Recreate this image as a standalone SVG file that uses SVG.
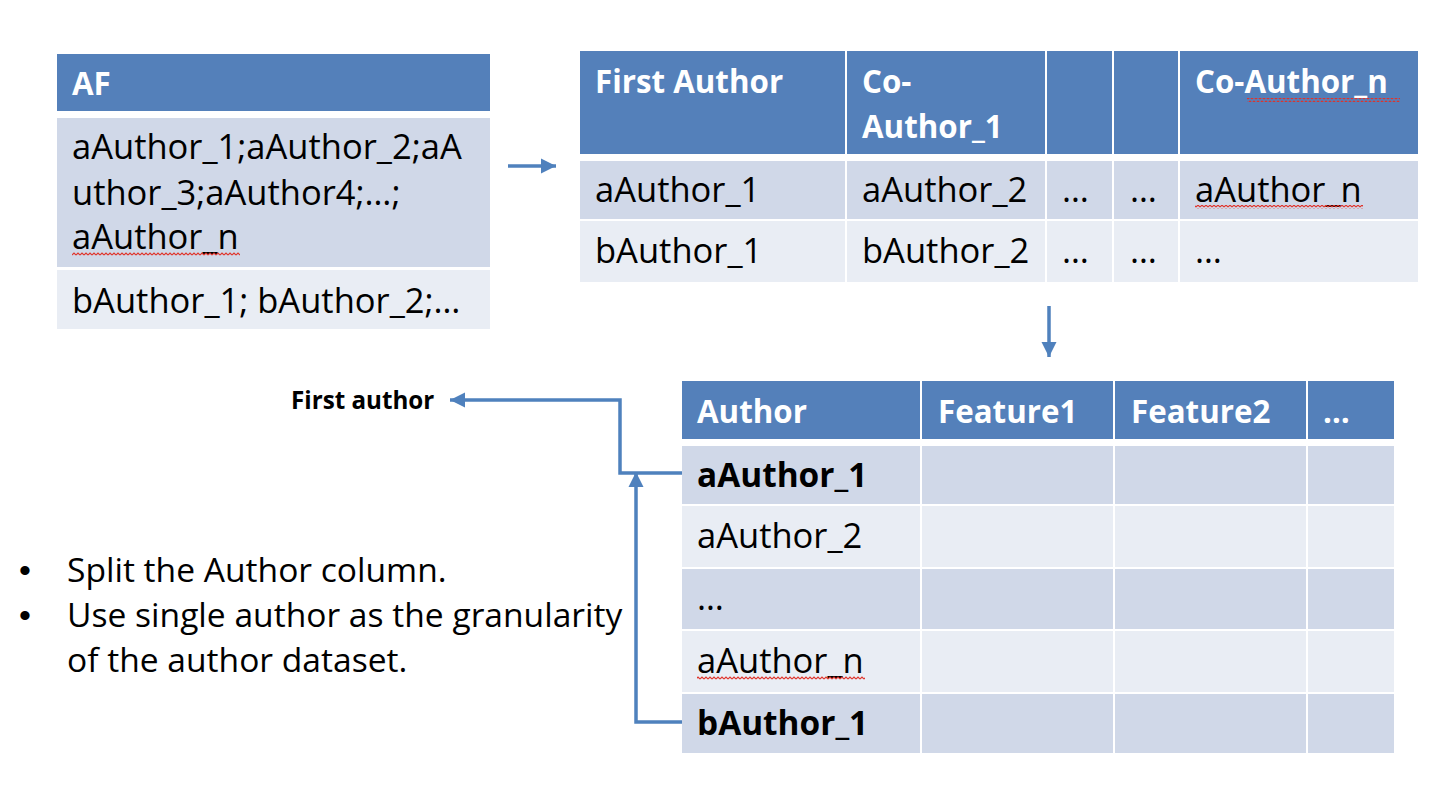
<svg xmlns="http://www.w3.org/2000/svg" width="1442" height="798" viewBox="0 0 1442 798">
<style>
.hd{fill:#5480BA}
.r1{fill:#D0D8E8}
.r2{fill:#E9EDF4}
.t{font-family:"Open Sans","Liberation Sans",sans-serif;font-size:34.5px;fill:#000}
.tn{font-family:"Open Sans","Liberation Sans",sans-serif;font-size:33.6px;fill:#000}
.th{font-family:"Open Sans","Liberation Sans",sans-serif;font-weight:bold;font-size:31.3px;fill:#fff}
.tb{font-family:"Open Sans","Liberation Sans",sans-serif;font-weight:bold;font-size:33.4px;fill:#000}
.lbl{font-family:"Open Sans","Liberation Sans",sans-serif;font-weight:bold;font-size:24.2px;fill:#000}
.bul{font-family:"Liberation Sans",sans-serif;font-size:34px;fill:#000}
.conn{fill:none;stroke:#4F81BD;stroke-width:3.5}
.sq{fill:url(#squig)}
</style>
<defs>
<marker id="ah" viewBox="0 0 10 10" refX="10" refY="5" markerWidth="4.3" markerHeight="4.3" orient="auto">
<path d="M0,0 L10,5 L0,10 z" fill="#4F81BD"/>
</marker>
<pattern id="squig" x="0" y="0" width="4" height="4" patternUnits="userSpaceOnUse">
<polyline points="0,3 2,1 4,3" fill="none" stroke="#E0322A" stroke-width="1.1"/>
</pattern>
</defs>
<rect width="1442" height="798" fill="#fff"/>

<g id="table-af">
<rect class="hd" x="57" y="54" width="433" height="57"/>
<rect class="r1" x="57" y="118" width="433" height="149"/>
<rect class="r2" x="57" y="270" width="433" height="59"/>
<text class="th" x="72" y="95">AF</text>
<text class="t" x="72" y="159">aAuthor_1;aAuthor_2;aA</text>
<text class="t" x="72" y="205">uthor_3;aAuthor4;…;</text>
<text class="t" x="72" y="249">aAuthor_n</text>
<rect class="sq" x="72" y="252" width="168" height="4"/>
<text class="t" x="72" y="313">bAuthor_1; bAuthor_2;…</text>
</g>

<g id="table-split">
<rect class="hd" x="580" y="51" width="265" height="103"/>
<rect class="hd" x="847" y="51" width="198" height="103"/>
<rect class="hd" x="1047" y="51" width="65" height="103"/>
<rect class="hd" x="1114" y="51" width="64" height="103"/>
<rect class="hd" x="1180" y="51" width="238" height="103"/>
<rect class="r1" x="580" y="161" width="265" height="58"/>
<rect class="r1" x="847" y="161" width="198" height="58"/>
<rect class="r1" x="1047" y="161" width="65" height="58"/>
<rect class="r1" x="1114" y="161" width="64" height="58"/>
<rect class="r1" x="1180" y="161" width="238" height="58"/>
<rect class="r2" x="580" y="221" width="265" height="61"/>
<rect class="r2" x="847" y="221" width="198" height="61"/>
<rect class="r2" x="1047" y="221" width="65" height="61"/>
<rect class="r2" x="1114" y="221" width="64" height="61"/>
<rect class="r2" x="1180" y="221" width="238" height="61"/>
<text class="th" x="595" y="93">First Author</text>
<text class="th" x="862" y="93">Co-</text>
<text class="th" x="862" y="138">Author_1</text>
<text class="th" x="1195" y="93">Co-Author_n</text>
<rect class="sq" x="1247" y="98" width="153" height="4"/>
<text class="t" x="595" y="202">aAuthor_1</text>
<text class="t" x="862" y="202">aAuthor_2</text>
<text class="t" x="1062" y="202">…</text>
<text class="t" x="1130" y="202">…</text>
<text class="t" x="1195" y="202">aAuthor_n</text>
<rect class="sq" x="1195" y="205" width="168" height="4"/>
<text class="t" x="595" y="263">bAuthor_1</text>
<text class="t" x="862" y="263">bAuthor_2</text>
<text class="t" x="1062" y="263">…</text>
<text class="t" x="1130" y="263">…</text>
<text class="t" x="1195" y="263">…</text>
</g>

<g id="table-author">
<rect class="hd" x="682" y="381" width="238" height="58"/>
<rect class="hd" x="922" y="381" width="191" height="58"/>
<rect class="hd" x="1115" y="381" width="191" height="58"/>
<rect class="hd" x="1308" y="381" width="86" height="58"/>
<rect class="r1" x="682" y="446" width="238" height="58"/>
<rect class="r1" x="922" y="446" width="191" height="58"/>
<rect class="r1" x="1115" y="446" width="191" height="58"/>
<rect class="r1" x="1308" y="446" width="86" height="58"/>
<rect class="r2" x="682" y="506" width="238" height="61"/>
<rect class="r2" x="922" y="506" width="191" height="61"/>
<rect class="r2" x="1115" y="506" width="191" height="61"/>
<rect class="r2" x="1308" y="506" width="86" height="61"/>
<rect class="r1" x="682" y="569" width="238" height="60"/>
<rect class="r1" x="922" y="569" width="191" height="60"/>
<rect class="r1" x="1115" y="569" width="191" height="60"/>
<rect class="r1" x="1308" y="569" width="86" height="60"/>
<rect class="r2" x="682" y="631" width="238" height="61"/>
<rect class="r2" x="922" y="631" width="191" height="61"/>
<rect class="r2" x="1115" y="631" width="191" height="61"/>
<rect class="r2" x="1308" y="631" width="86" height="61"/>
<rect class="r1" x="682" y="694" width="238" height="59"/>
<rect class="r1" x="922" y="694" width="191" height="59"/>
<rect class="r1" x="1115" y="694" width="191" height="59"/>
<rect class="r1" x="1308" y="694" width="86" height="59"/>
<text class="th" x="697" y="423">Author</text>
<text class="th" x="938" y="423">Feature1</text>
<text class="th" x="1131" y="423">Feature2</text>
<text class="th" x="1323" y="423">…</text>
<text class="tb" x="697" y="487">aAuthor_1</text>
<text class="t" x="697" y="548">aAuthor_2</text>
<text class="t" x="697" y="610">…</text>
<text class="t" x="697" y="673">aAuthor_n</text>
<rect class="sq" x="697" y="676" width="168" height="4"/>
<text class="tb" x="697" y="735">bAuthor_1</text>
</g>

<g id="label-first-author">
<text class="lbl" x="291" y="409">First author</text>
</g>

<g id="notes">
<text class="bul" x="19" y="582">•</text>
<text class="tn" x="67" y="582">Split the Author column.</text>
<text class="bul" x="19" y="627">•</text>
<text class="tn" x="67" y="627">Use single author as the granularity</text>
<text class="tn" x="67" y="672">of the author dataset.</text>
</g>

<g id="connectors">
<path class="conn" d="M508,166 H556" marker-end="url(#ah)"/>
<path class="conn" d="M1049,306 V357" marker-end="url(#ah)"/>
<path class="conn" d="M682,473 H620 V400 H450" marker-end="url(#ah)"/>
<path class="conn" d="M682,722 H636 V472" marker-end="url(#ah)"/>
</g>
</svg>
